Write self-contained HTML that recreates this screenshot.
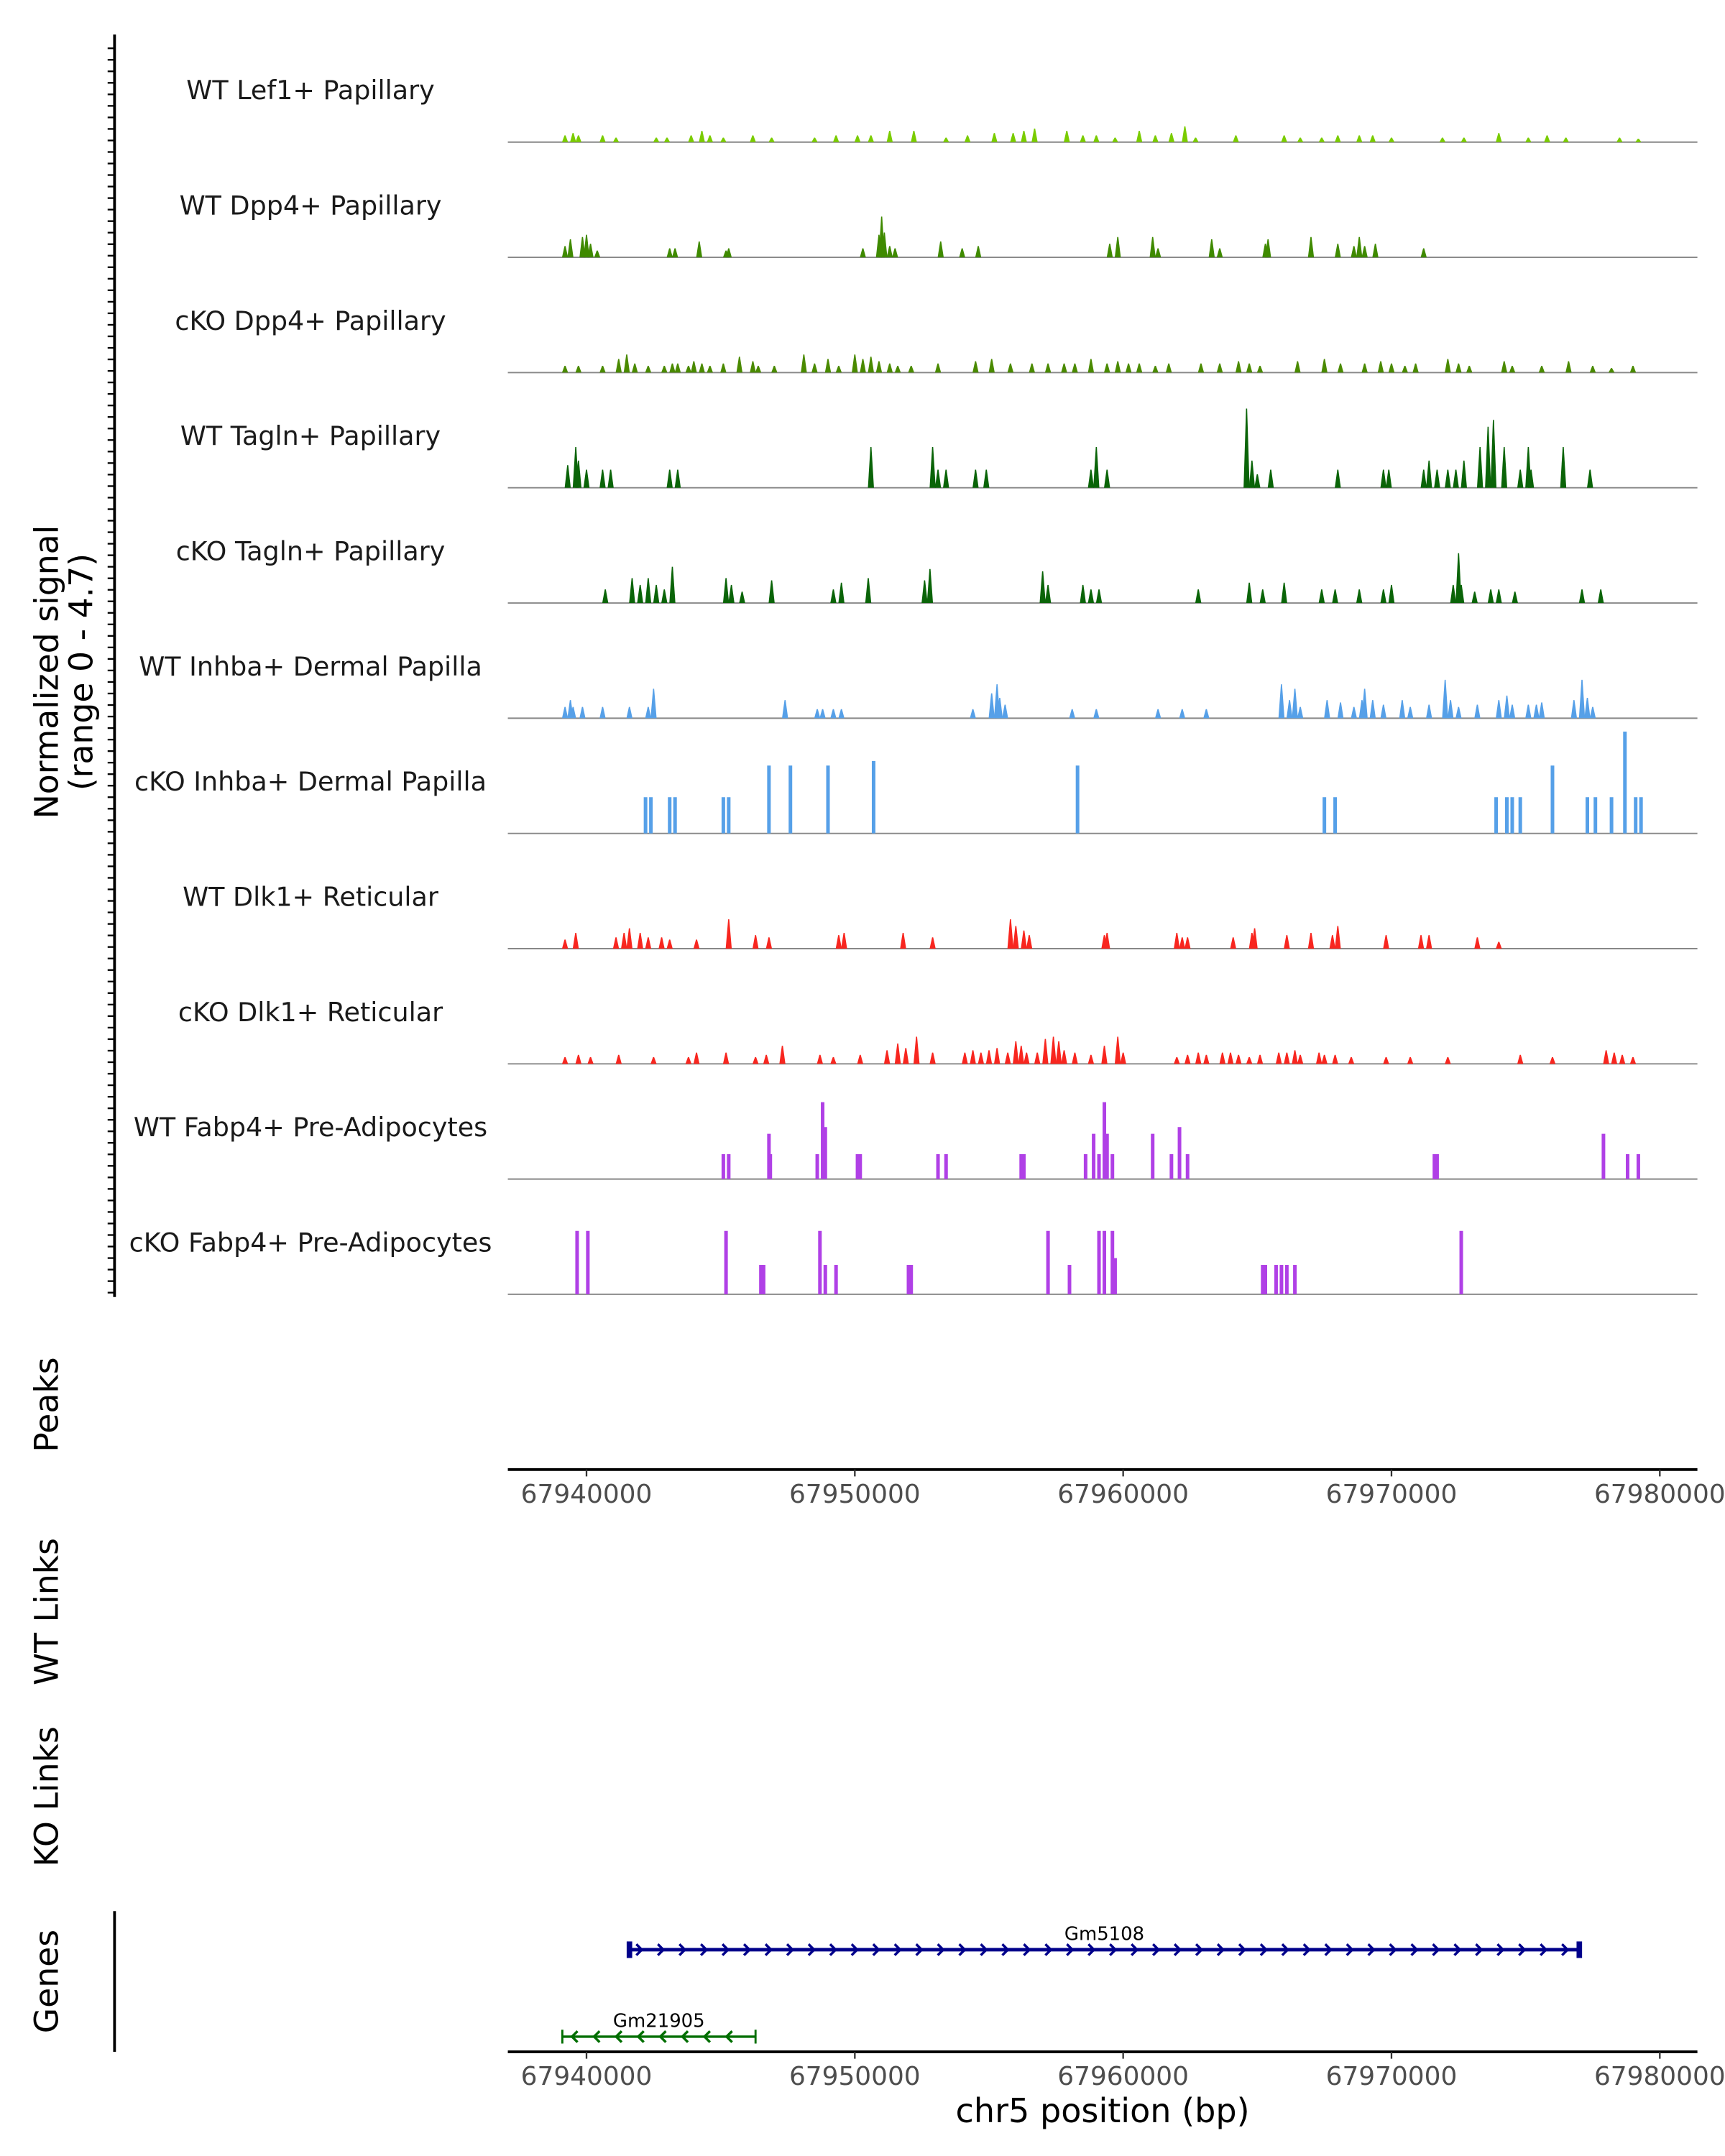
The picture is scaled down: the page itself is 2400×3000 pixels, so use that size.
<!DOCTYPE html>
<html><head><meta charset="utf-8">
<style>
html,body{margin:0;padding:0;background:#fff;}
svg{display:block;}
text{font-family:"DejaVu Sans","Liberation Sans",sans-serif;}
</style></head>
<body>
<svg id="chart" width="2400" height="3000" viewBox="0 0 1250 1562.5" xmlns="http://www.w3.org/2000/svg">
<g id="frame">
  <line x1="83" y1="25" x2="83" y2="940" stroke="#000" stroke-width="2"/>
  <text transform="translate(42,487) rotate(-90)" text-anchor="middle" font-size="23.8">Normalized signal</text>
  <text transform="translate(67,487) rotate(-90)" text-anchor="middle" font-size="23.8">(range 0 - 4.7)</text>
  <text transform="translate(42,1018) rotate(-90)" text-anchor="middle" font-size="23.8">Peaks</text>
  <text transform="translate(42,1168) rotate(-90)" text-anchor="middle" font-size="23.8">WT Links</text>
  <text transform="translate(42,1302) rotate(-90)" text-anchor="middle" font-size="23.8">KO Links</text>
  <text transform="translate(42,1436) rotate(-90)" text-anchor="middle" font-size="23.8">Genes</text>
  <line x1="83" y1="1385" x2="83" y2="1487" stroke="#000" stroke-width="2"/>
  <text x="799" y="1538" text-anchor="middle" font-size="24">chr5 position (bp)</text>
</g>
<g id="tracks"></g>
<g id="axes"></g>
<g id="genes"></g>
</svg>
<script>
const START = 67940000;
const trackLabels = ["WT Lef1+ Papillary","WT Dpp4+ Papillary","cKO Dpp4+ Papillary","WT Tagln+ Papillary","cKO Tagln+ Papillary","WT Inhba+ Dermal Papilla","cKO Inhba+ Dermal Papilla","WT Dlk1+ Reticular","cKO Dlk1+ Reticular","WT Fabp4+ Pre-Adipocytes","cKO Fabp4+ Pre-Adipocytes"];
const trackColors = ["#7ACC00","#3F8A00","#4A8A00","#0A6408","#0A6408","#56A0E8","#56A0E8","#F8261F","#F8261F","#B040E6","#B040E6"];
const pos0=[-0.8,-0.5,-0.3,0.6,1.1,2.6,3.0,3.9,4.3,4.6,5.1,6.2,6.9,8.5,9.3,10.1,10.6,11.3,12.2,13.4,14.2,15.2,15.9,16.3,16.7,17.9,18.5,19.0,19.7,20.6,21.2,21.8,22.3,22.7,24.2,26.0,26.6,27.4,28.0,28.8,29.3,30.0,31.9,32.7,34.0,35.1,35.8,36.5,38.5,39.2];
const val0=[0.3,0.4,0.3,0.3,0.2,0.2,0.2,0.3,0.5,0.3,0.2,0.3,0.2,0.2,0.3,0.3,0.3,0.5,0.5,0.2,0.3,0.4,0.4,0.5,0.6,0.5,0.3,0.3,0.2,0.5,0.3,0.4,0.7,0.2,0.3,0.3,0.2,0.2,0.3,0.3,0.3,0.2,0.2,0.2,0.4,0.2,0.3,0.2,0.2,0.15];
const pos1=[-0.8,-0.6,-0.15,0,0.15,0.4,3.1,3.3,4.2,5.2,5.3,10.3,10.9,11.0,11.1,11.3,11.5,13.2,14.0,14.6,19.5,19.8,21.1,21.3,23.3,23.6,25.3,25.4,27.0,28.0,28.6,28.8,29.0,29.4,31.2];
const val1=[0.5,0.8,0.9,1.0,0.6,0.3,0.4,0.4,0.7,0.3,0.4,0.4,1.0,1.8,1.1,0.5,0.4,0.7,0.4,0.5,0.6,0.9,0.9,0.4,0.8,0.4,0.6,0.8,0.9,0.6,0.5,0.9,0.5,0.6,0.4];
const pos2=[-0.8,-0.3,0.6,1.2,1.5,1.8,2.3,2.9,3.2,3.4,3.8,4.0,4.3,4.6,5.1,5.7,6.2,6.4,7.0,8.1,8.5,9.0,9.4,10.0,10.3,10.6,10.9,11.3,11.6,12.1,13.1,14.5,15.1,15.8,16.6,17.2,17.8,18.2,18.8,19.4,19.8,20.2,20.6,21.2,21.7,22.9,23.6,24.3,24.7,25.1,26.5,27.5,28.1,29.0,29.6,30.0,30.5,30.9,32.1,32.5,32.9,34.2,34.5,35.6,36.6,37.5,38.2,39.0];
const val2=[0.3,0.3,0.3,0.6,0.8,0.4,0.3,0.3,0.4,0.4,0.3,0.5,0.4,0.3,0.4,0.7,0.5,0.3,0.3,0.8,0.4,0.6,0.3,0.8,0.6,0.7,0.5,0.4,0.3,0.3,0.4,0.5,0.6,0.4,0.4,0.4,0.4,0.4,0.6,0.4,0.5,0.4,0.4,0.3,0.4,0.4,0.4,0.5,0.4,0.3,0.5,0.6,0.4,0.4,0.5,0.4,0.3,0.4,0.6,0.4,0.3,0.5,0.3,0.3,0.5,0.3,0.2,0.3];
const pos3=[-0.7,-0.4,-0.3,0,0.6,0.9,3.1,3.4,10.6,12.9,13.1,13.4,14.5,14.9,18.8,19.0,19.4,24.6,24.8,25.0,25.5,28.0,29.7,29.9,31.2,31.4,31.7,32.1,32.4,32.7,33.3,33.6,33.8,34.2,34.8,35.1,35.2,36.4,37.4];
const val3=[1.0,1.8,1.2,0.8,0.8,0.8,0.8,0.8,1.8,1.8,0.8,0.8,0.8,0.8,0.8,1.8,0.8,3.5,1.2,0.6,0.8,0.8,0.8,0.8,0.8,1.2,0.8,0.8,0.8,1.2,1.8,2.7,3.0,1.8,0.8,1.8,0.8,1.8,0.8];
const pos4=[0.7,1.7,2.0,2.3,2.6,2.9,3.2,5.2,5.4,5.8,6.9,9.2,9.5,10.5,12.6,12.8,17.0,17.2,18.5,18.8,19.1,22.8,24.7,25.2,26.0,27.4,27.9,28.8,29.7,30.0,32.3,32.5,32.6,33.1,33.7,34.0,34.6,37.1,37.8];
const val4=[0.6,1.1,0.8,1.1,0.8,0.6,1.6,1.1,0.8,0.5,1.0,0.6,0.9,1.1,1.0,1.5,1.4,0.8,0.8,0.6,0.6,0.6,0.9,0.6,0.9,0.6,0.6,0.6,0.6,0.8,0.8,2.2,0.8,0.5,0.6,0.6,0.5,0.6,0.6];
const pos5=[-0.8,-0.6,-0.5,-0.15,0.6,1.6,2.3,2.5,7.4,8.6,8.8,9.2,9.5,14.4,15.1,15.3,15.4,15.6,18.1,19.0,21.3,22.2,23.1,25.9,26.2,26.4,26.6,27.6,28.1,28.6,28.9,29.0,29.3,29.7,30.4,30.7,31.4,32.0,32.2,32.5,33.2,34.0,34.3,34.5,35.1,35.4,35.6,36.8,37.1,37.3,37.5];
const val5=[0.5,0.8,0.5,0.5,0.5,0.5,0.5,1.3,0.8,0.4,0.4,0.4,0.4,0.4,1.1,1.5,0.9,0.6,0.4,0.4,0.4,0.4,0.4,1.5,0.8,1.3,0.5,0.8,0.7,0.5,0.8,1.3,0.8,0.6,0.8,0.5,0.6,1.7,0.8,0.5,0.6,0.8,1.0,0.6,0.6,0.6,0.7,0.8,1.7,0.9,0.5];
const pos6=[2.2,2.4,3.1,3.3,5.1,5.3,6.8,7.6,9.0,10.7,18.3,27.5,27.9,33.9,34.3,34.5,34.8,36.0,37.3,37.6,38.2,38.7,39.1,39.3];
const val6=[1.6,1.6,1.6,1.6,1.6,1.6,3.0,3.0,3.0,3.2,3.0,1.6,1.6,1.6,1.6,1.6,1.6,3.0,1.6,1.6,1.6,4.5,1.6,1.6];
const pos7=[-0.8,-0.4,1.1,1.4,1.6,2.0,2.3,2.8,3.1,4.1,5.3,6.3,6.8,9.4,9.6,11.8,12.9,15.8,16.0,16.3,16.5,19.3,19.4,22.0,22.2,22.4,24.1,24.8,24.9,26.1,27.0,27.8,28.0,29.8,31.1,31.4,33.2,34.0];
const val7=[0.4,0.7,0.5,0.7,0.9,0.7,0.5,0.5,0.4,0.4,1.3,0.6,0.5,0.6,0.7,0.7,0.5,1.3,1.0,0.8,0.6,0.6,0.7,0.7,0.5,0.5,0.5,0.7,0.9,0.6,0.7,0.6,1.0,0.6,0.6,0.6,0.5,0.3];
const pos8=[-0.8,-0.3,0.15,1.2,2.5,3.8,4.1,5.2,6.3,6.7,7.3,8.7,9.2,10.2,11.2,11.6,11.9,12.3,12.9,14.1,14.4,14.7,15.0,15.3,15.7,16.0,16.2,16.4,16.8,17.1,17.4,17.6,17.8,18.2,18.8,19.3,19.8,20.0,22.0,22.4,22.8,23.1,23.7,24.0,24.3,24.7,25.1,25.8,26.1,26.4,26.6,27.3,27.5,27.9,28.5,29.8,30.7,32.1,34.8,36.0,38.0,38.3,38.6,39.0];
const val8=[0.3,0.4,0.3,0.4,0.3,0.3,0.5,0.5,0.3,0.4,0.8,0.4,0.3,0.4,0.6,0.9,0.7,1.2,0.5,0.5,0.6,0.5,0.6,0.7,0.5,1.0,0.8,0.5,0.5,1.1,1.2,1.0,0.6,0.5,0.4,0.8,1.2,0.5,0.3,0.4,0.5,0.4,0.5,0.5,0.4,0.3,0.4,0.5,0.5,0.6,0.4,0.5,0.4,0.4,0.3,0.3,0.3,0.3,0.4,0.3,0.6,0.5,0.4,0.3];
const pos9=[5.1,5.3,6.8,6.85,8.6,8.8,8.9,10.1,10.2,13.1,13.4,16.2,16.3,18.6,18.9,19.1,19.3,19.4,19.6,21.1,21.8,22.1,22.4,31.6,31.7,37.9,38.8,39.2];
const val9=[1.1,1.1,2.0,1.1,1.1,3.4,2.3,1.1,1.1,1.1,1.1,1.1,1.1,1.1,2.0,1.1,3.4,2.0,1.1,2.0,1.1,2.3,1.1,1.1,1.1,2.0,1.1,1.1];
const pos10=[-0.35,0.05,5.2,6.5,6.6,8.7,8.9,9.3,12.0,12.1,17.2,18.0,19.1,19.3,19.6,19.7,25.2,25.3,25.7,25.9,26.1,26.4,32.6];
const val10=[2.8,2.8,2.8,1.3,1.3,2.8,1.3,1.3,1.3,1.3,2.8,1.3,2.8,2.8,2.8,1.6,1.3,1.3,1.3,1.3,1.3,1.3,2.8];
const trackPos=[pos0,pos1,pos2,pos3,pos4,pos5,pos6,pos7,pos8,pos9,pos10];
const trackVals=[val0,val1,val2,val3,val4,val5,val6,val7,val8,val9,val10];
const xTicks=[67940000,67950000,67960000,67970000,67980000];
const geneNames=["Gm5108","Gm21905"];
const geneStarts=[67941600,67939100];
const geneEnds=[67977000,67946300];
const geneStrands=[1,-1];
const geneColors=["#00008B","#006E00"];

const NS="http://www.w3.org/2000/svg";
const X0=368,X1=1230;
function xScale(bp){return 425+(bp-67940000)*0.019444;}
function kbX(kb){return xScale(START+kb*1000);}
const unitPx=16.4;
function mk(tag,attrs,parent){const e=document.createElementNS(NS,tag);for(const k in attrs)e.setAttribute(k,attrs[k]);parent.appendChild(e);return e;}

const axG=document.getElementById('axes');
for(let y=35;y<=940;y+=8.35){
  const t=mk('line',{x1:78,x2:83,y1:y,y2:y,stroke:'#000','stroke-width':1.2},axG);
  
  
}
const tg=document.getElementById('tracks');
trackLabels.forEach((lab,i)=>{
  const base=103+i*83.5;
  const g=mk('g',{},tg);
  
  
  const t=mk('text',{x:225,y:base-31,'text-anchor':'middle','font-size':19,fill:'#1a1a1a'},g);
  t.textContent=lab;
  
  
  const bl=mk('line',{x1:X0,x2:X1,y1:base,y2:base,stroke:'#888','stroke-width':1},g);
  
  
  const hw=(i===6||i>=9)?1.3:2.2;
  trackPos[i].forEach((p,j)=>{
    const x=kbX(p),h=trackVals[i][j]*unitPx;
    const pts=(i===6||i>=9)?`${x-hw},${base} ${x-hw},${base-h} ${x+hw},${base-h} ${x+hw},${base}`:`${x-hw},${base} ${x-0.4},${base-h} ${x+0.4},${base-h} ${x+hw},${base}`;
    const pk=mk('polygon',{points:pts,fill:trackColors[i]},g);
    
    
  });
});
[1065,1487].forEach((ay,k)=>{
  const l=mk('line',{x1:X0,x2:X1,y1:ay,y2:ay,stroke:'#000','stroke-width':2},axG);
  
  
  xTicks.forEach(v=>{
    const x=xScale(v);
    const tk=mk('line',{x1:x,x2:x,y1:ay,y2:ay+5,stroke:'#333','stroke-width':1.2},axG);
    
    
    const tl=mk('text',{x:x,y:ay+24,'text-anchor':'middle','font-size':18.7,fill:'#4d4d4d'},axG);
    tl.textContent=String(v);
    
    
  });
});
const gg=document.getElementById('genes');
const geneY=[1413,1476];
geneNames.forEach((n,i)=>{
  const g=mk('g',{},gg);
  
  
  const x1=xScale(geneStarts[i]),x2=xScale(geneEnds[i]),y=geneY[i],c=geneColors[i];
  const sw=i===0?2.5:1.8;
  const ln=mk('line',{x1:x1,x2:x2,y1:y,y2:y,stroke:c,'stroke-width':sw},g);
  
  
  [x1,x2].forEach(xx=>{
    const e=mk('line',{x1:xx,x2:xx,y1:y-(i===0?6:5),y2:y+(i===0?6:5),stroke:c,'stroke-width':i===0?4:1.5},g);
    
    
  });
  const step=i===0?15.6:16;
  for(let x=x1+8;x<x2-4;x+=step){
    const d=geneStrands[i]>0?`M${x-3},${y-4} L${x+1},${y} L${x-3},${y+4}`:`M${x+3},${y-4} L${x-1},${y} L${x+3},${y+4}`;
    const a=mk('path',{d:d,stroke:c,'stroke-width':1.8,fill:'none'},g);
    
    
  }
  const t=mk('text',{x:(x1+x2)/2,y:y-7,'text-anchor':'middle','font-size':13.5,fill:'#000'},g);
  t.textContent=n;
  
  
});
</script>
</body></html>
